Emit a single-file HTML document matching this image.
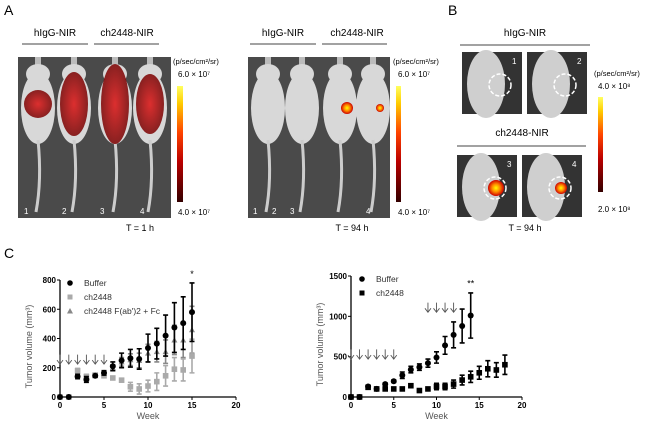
<!DOCTYPE html>
<html><head><meta charset="utf-8"><style>
body{margin:0;background:#fff;width:650px;height:425px;overflow:hidden;font-family:"Liberation Sans",sans-serif}
svg text{font-family:"Liberation Sans",sans-serif}
</style></head><body>
<svg id="fig" width="650" height="425" viewBox="0 0 650 425" xmlns="http://www.w3.org/2000/svg">
<defs>
<linearGradient id="cbar" x1="0" y1="1" x2="0" y2="0"><stop offset="0" stop-color="#300"/><stop offset="0.35" stop-color="#b00"/><stop offset="0.6" stop-color="#f40"/><stop offset="0.85" stop-color="#fc0"/><stop offset="1" stop-color="#ffff60"/></linearGradient>
<radialGradient id="hot"><stop offset="0" stop-color="#ff0"/><stop offset="0.5" stop-color="#f80"/><stop offset="1" stop-color="#c00"/></radialGradient>
<radialGradient id="red"><stop offset="0" stop-color="#d11"/><stop offset="1" stop-color="#7a0000"/></radialGradient>
</defs>
<g>
<text x="4" y="15" font-size="14">A</text>
<text x="55" y="36" font-size="10" text-anchor="middle">hIgG-NIR</text>
<line x1="22" y1="44" x2="88" y2="44" stroke="#444"/>
<text x="127" y="36" font-size="10" text-anchor="middle">ch2448-NIR</text>
<line x1="94" y1="44" x2="159" y2="44" stroke="#444"/>
<rect x="18" y="57" width="153" height="161" fill="#4a4a4a"/>
<g id="mice1"></g>
<text x="283" y="36" font-size="10" text-anchor="middle">hIgG-NIR</text>
<line x1="250" y1="44" x2="316" y2="44" stroke="#444"/>
<text x="357" y="36" font-size="10" text-anchor="middle">ch2448-NIR</text>
<line x1="322" y1="44" x2="387" y2="44" stroke="#444"/>
<rect x="248" y="57" width="142" height="161" fill="#4a4a4a"/>
<g id="mice2"></g>
<rect x="177" y="86" width="6" height="116" fill="url(#cbar)"/>
<text x="173" y="64" font-size="7.5">(p/sec/cm²/sr)</text>
<text x="178" y="77" font-size="8">6.0 × 10⁷</text>
<text x="178" y="215" font-size="8">4.0 × 10⁷</text>
<text x="140" y="231" font-size="9" text-anchor="middle">T = 1 h</text>
<rect x="396" y="86" width="5" height="116" fill="url(#cbar)"/>
<text x="393" y="64" font-size="7.5">(p/sec/cm²/sr)</text>
<text x="398" y="77" font-size="8">6.0 × 10⁷</text>
<text x="398" y="215" font-size="8">4.0 × 10⁷</text>
<text x="352" y="231" font-size="9" text-anchor="middle">T = 94 h</text>
</g>
<g>
<text x="448" y="15" font-size="14">B</text>
<text x="525" y="36" font-size="10" text-anchor="middle">hIgG-NIR</text>
<line x1="460" y1="45" x2="590" y2="45" stroke="#444"/>
<text x="522" y="136" font-size="10" text-anchor="middle">ch2448-NIR</text>
<line x1="457" y1="146" x2="586" y2="146" stroke="#444"/>
<g id="bimgs"></g>
<rect x="598" y="97" width="5" height="95" fill="url(#cbar)"/>
<text x="594" y="76" font-size="7.5">(p/sec/cm²/sr)</text>
<text x="598" y="89" font-size="8">4.0 × 10⁸</text>
<text x="598" y="212" font-size="8">2.0 × 10⁸</text>
<text x="525" y="231" font-size="9" text-anchor="middle">T = 94 h</text>
</g>
<text x="4" y="258" font-size="14">C</text>
<g id="chart1"></g>
<g id="chart2"></g>
</svg>
<script>
const NS='http://www.w3.org/2000/svg';
function mk(p,tag,a){const e=document.createElementNS(NS,tag);for(const k in a)e.setAttribute(k,a[k]);p.appendChild(e);return e;}
function mouse(g,cx,top,w,sig,hot){
 mk(g,'rect',{x:cx-3,y:top-3,width:6,height:12,fill:'#bbb'});
 mk(g,'ellipse',{cx:cx,cy:top+14,rx:w/2-5,ry:10,fill:'#d8d8d8'});
 mk(g,'ellipse',{cx:cx,cy:top+48,rx:w/2,ry:36,fill:'#d8d8d8'});
 mk(g,'path',{d:`M${cx} ${top+80} Q${cx+4} ${top+120} ${cx-2} ${top+152}`,stroke:'#ccc','stroke-width':3,fill:'none'});
 if(sig)mk(g,'ellipse',{cx:cx,cy:top+44,rx:w/2-3,ry:sig,fill:'url(#red)',opacity:0.85});
 if(hot)mk(g,'circle',{cx:cx+w/2-10,cy:top+48,r:hot,fill:'url(#hot)'});
}
const m1=document.getElementById('mice1');
[[38,14],[74,32],[115,40],[150,30]].forEach(d=>mouse(m1,d[0],60,34,d[1],0));
const m2=document.getElementById('mice2');
[[268,0],[302,0],[340,0,6],[373,0,4]].forEach(d=>mouse(m2,d[0],60,34,0,d[2]||0));
['1','2','3','4'].forEach((t,i)=>{const e=mk(m1,'text',{x:[24,62,100,140][i],y:214,'font-size':8,fill:'#fff'});e.textContent=t;
 const f=mk(m2,'text',{x:[253,272,290,366][i],y:214,'font-size':8,fill:'#fff'});f.textContent=t;});
const bi=document.getElementById('bimgs');
[[462,52,'1',0],[527,52,'2',0],[457,155,'3',8],[522,155,'4',6]].forEach(d=>{
 mk(bi,'rect',{x:d[0],y:d[1],width:60,height:62,fill:'#333'});
 mk(bi,'ellipse',{cx:d[0]+24,cy:d[1]+32,rx:19,ry:34,fill:'#cfcfcf'});
 mk(bi,'circle',{cx:d[0]+38,cy:d[1]+33,r:11,fill:'none',stroke:'#fff','stroke-width':1.5,'stroke-dasharray':'4 2'});
 if(d[3])mk(bi,'circle',{cx:d[0]+39,cy:d[1]+33,r:d[3],fill:'url(#hot)'});
 const t=mk(bi,'text',{x:d[0]+50,y:d[1]+12,'font-size':8,fill:'#fff'});t.textContent=d[2];
});

// ===== Chart data =====
const leftWeeks=[0,1,2,3,4,5,6,7,8,9,10,11,12,13,14,15];
const leftBuffer=[0,0,140,120,145,165,210,250,265,260,335,365,420,475,505,580];
const leftBufferErr=[0,0,15,20,10,15,30,50,60,70,95,105,140,170,180,200];
const leftCh2448=[0,0,180,140,150,145,130,115,70,55,75,105,145,190,185,280];
const leftCh2448Err=[0,0,15,15,10,10,10,10,30,35,40,60,70,80,75,115];
const leftFab=[0,0,150,125,145,160,200,240,255,250,300,310,310,390,390,460];
const leftFabErr=[0,0,10,10,10,10,20,30,40,50,60,70,80,100,120,160];
const leftYTicks=[0,200,400,600,800];
const leftArrowWeeks=[0,1,2,3,4,5];
const rightWeeksBuffer=[0,1,2,3,4,5,6,7,8,9,10,11,12,13,14];
const rightBuffer=[0,0,130,100,160,195,270,340,370,420,490,640,770,880,1010];
const rightBufferErr=[0,0,15,10,15,15,40,40,40,50,70,110,160,210,280];
const rightWeeksCh=[0,1,2,3,4,5,6,7,8,9,10,11,12,13,14,15,16,17,18];
const rightCh2448=[0,0,120,100,100,100,100,140,80,100,130,130,160,210,250,300,350,335,400];
const rightCh2448Err=[0,0,10,10,10,10,10,10,10,10,40,40,50,60,70,80,100,90,120];
const rightYTicks=[0,500,1000,1500];
const rightArrowWeeks1=[0,1,2,3,4,5];
const rightArrowWeeks2=[9,10,11,12];
const xTicks=[0,5,10,15,20];

function axes(g,x0,x1,y0,y1,ymax,yt){
 const X=v=>x0+v/20*(x1-x0), Y=v=>y0-v/ymax*(y0-y1);
 mk(g,'line',{x1:x0,y1:y0,x2:x1,y2:y0,stroke:'#000','stroke-width':1.3});
 mk(g,'line',{x1:x0,y1:y0,x2:x0,y2:Y(ymax),stroke:'#000','stroke-width':1.3});
 xTicks.forEach(t=>{mk(g,'line',{x1:X(t),y1:y0,x2:X(t),y2:y0+3,stroke:'#000'});const e=mk(g,'text',{x:X(t),y:y0+11,'font-size':8,'font-weight':'bold','text-anchor':'middle'});e.textContent=t;});
 yt.forEach(t=>{mk(g,'line',{x1:x0-3,y1:Y(t),x2:x0,y2:Y(t),stroke:'#000'});const e=mk(g,'text',{x:x0-4,y:Y(t)+3,'font-size':8,'font-weight':'bold','text-anchor':'end'});e.textContent=t;});
 const w=mk(g,'text',{x:(x0+x1)/2,y:y0+22,'font-size':9,fill:'#555','text-anchor':'middle'});w.textContent='Week';
 const yl=mk(g,'text',{x:0,y:0,'font-size':9,fill:'#555','text-anchor':'middle',transform:`translate(${x0-28},${(y0+Y(ymax))/2+8}) rotate(-90)`});yl.textContent='Tumor volume (mm³)';
 return [X,Y];
}
function series(g,X,Y,wk,vals,err,color,shape,name){
 wk.forEach((w,i)=>{
  const x=X(w),y=Y(vals[i]);
  if(err[i]>0){const a=Y(vals[i]+err[i]),b=Y(vals[i]-err[i]);
   const l=mk(g,'path',{d:`M${x} ${a}V${b}M${x-2.5} ${a}H${x+2.5}M${x-2.5} ${b}H${x+2.5}`,stroke:color,'stroke-width':1.6,fill:'none'});
   }
  let m;
  if(shape==='c')m=mk(g,'circle',{cx:x,cy:y,r:3,fill:color});
  else if(shape==='s')m=mk(g,'rect',{x:x-2.8,y:y-2.8,width:5.6,height:5.6,fill:color});
  else m=mk(g,'path',{d:`M${x} ${y-3}L${x+3} ${y+2.5}L${x-3} ${y+2.5}Z`,fill:color});
  
  
 });
}
function arrows(g,X,Y,wk,top,bot){
 wk.forEach(w=>{const x=X(w),a=Y(top),b=Y(bot);
  const p=mk(g,'path',{d:`M${x} ${a}V${b}M${x-3} ${b-4}L${x} ${b}L${x+3} ${b-4}`,stroke:'#555','stroke-width':0.9,fill:'none'});
  
  });
}
function legend(g,x,y,items){
 items.forEach((it,i)=>{const yy=y+i*14;
  if(it[1]==='c')mk(g,'circle',{cx:x,cy:yy,r:2.8,fill:it[2]});
  else if(it[1]==='s')mk(g,'rect',{x:x-2.5,y:yy-2.5,width:5,height:5,fill:it[2]});
  else mk(g,'path',{d:`M${x} ${yy-3}L${x+3} ${yy+2.5}L${x-3} ${yy+2.5}Z`,fill:it[2]});
  const t=mk(g,'text',{x:x+14,y:yy+3,'font-size':8.5,fill:'#333'});t.textContent=it[0];
  });
}
const g1=document.getElementById('chart1');
let [X1,Y1]=axes(g1,60,236,397,280,800,leftYTicks);
arrows(g1,X1,Y1,leftArrowWeeks,290,225);
series(g1,X1,Y1,leftWeeks,leftFab,leftFabErr,'#888','t','ch2448-fab');
series(g1,X1,Y1,leftWeeks,leftCh2448,leftCh2448Err,'#aaa','s','ch2448');
series(g1,X1,Y1,leftWeeks,leftBuffer,leftBufferErr,'#000','c','buffer');
legend(g1,70,283,[['Buffer','c','#000'],['ch2448','s','#aaa'],['ch2448 F(ab\')2 + Fc','t','#888']]);
const s1=mk(g1,'text',{x:X1(15),y:Y1(820),'font-size':9,'text-anchor':'middle'});s1.textContent='*';
const g2=document.getElementById('chart2');
let [X2,Y2]=axes(g2,351,522,397,276,1500,rightYTicks);
arrows(g2,X2,Y2,rightArrowWeeks1,590,470);
arrows(g2,X2,Y2,rightArrowWeeks2,1170,1050);
series(g2,X2,Y2,rightWeeksCh,rightCh2448,rightCh2448Err,'#000','s','ch2448');
series(g2,X2,Y2,rightWeeksBuffer,rightBuffer,rightBufferErr,'#000','c','buffer');
legend(g2,362,279,[['Buffer','c','#000'],['ch2448','s','#000']]);
const s2=mk(g2,'text',{x:X2(14),y:Y2(1370),'font-size':9,'text-anchor':'middle'});s2.textContent='**';
</script>
</body></html>
